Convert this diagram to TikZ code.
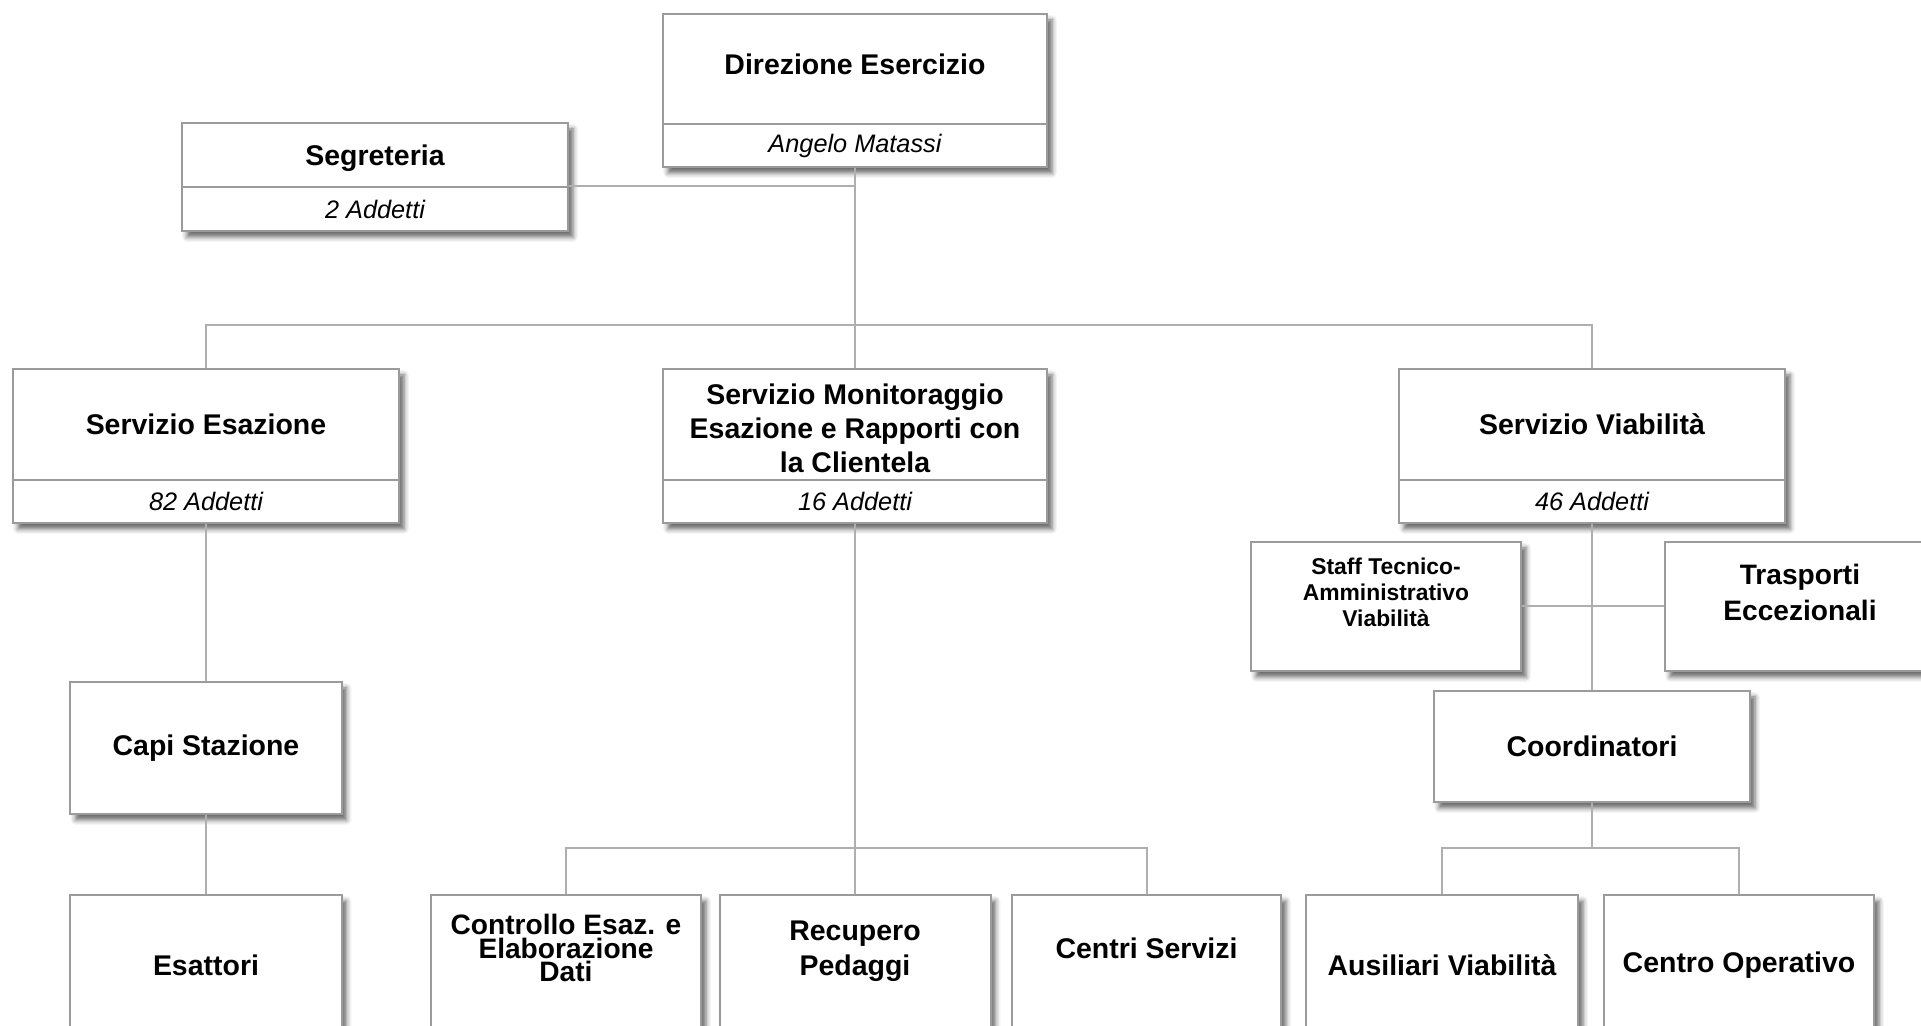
\documentclass[tikz,border=0pt]{standalone}
\usepackage{fontspec}
\setmainfont{Liberation Sans}
\usetikzlibrary{positioning,shadows,shadows.blur}
\definecolor{boxgray}{RGB}{155,155,155}
\definecolor{linegray}{RGB}{175,175,175}
\tikzset{
  plainbox/.style={draw=boxgray, line width=0.02cm, fill=white, align=center, inner sep=1pt},
  orgbox/.style={plainbox,
    blur shadow={shadow xshift=0.05cm, shadow yshift=-0.06cm, shadow blur radius=0.05cm, shadow opacity=60}},
  headbox/.style={orgbox, font=\fontsize{8.1}{9.7}\selectfont\bfseries},
  subbox/.style={plainbox, anchor=south, font=\fontsize{7.2}{8.6}\selectfont\itshape},
  unitbox/.style={headbox, anchor=north, minimum height=1.40cm},
  link/.style={draw=linegray, line width=0.02cm},
}

\begin{document}
\begin{tikzpicture}
\useasboundingbox (0,0) rectangle (19.21,-10.26);

% Direzione and Segreteria
\node[headbox, minimum width=3.84cm, minimum height=1.53cm, text depth=0.53cm] (dir) at (8.55,-0.905) {Direzione Esercizio};
\node[subbox, minimum width=3.84cm, minimum height=0.43cm] (dir-sub) at (dir.south) {Angelo Matassi};
\node[headbox, minimum width=3.86cm, minimum height=1.08cm, text depth=0.44cm] (seg) at (3.75,-1.77) {Segreteria};
\node[subbox, minimum width=3.86cm, minimum height=0.44cm] (seg-sub) at (seg.south) {2 Addetti};

% Servizi
\node[headbox, minimum width=3.86cm, minimum height=1.54cm, text depth=0.43cm] (esa) at (2.06,-4.46) {Servizio Esazione};
\node[subbox, minimum width=3.86cm, minimum height=0.43cm] (esa-sub) at (esa.south) {82 Addetti};
\node[headbox, minimum width=3.84cm, minimum height=1.54cm, text depth=0.36cm] (mon) at (8.55,-4.46) {Servizio Monitoraggio\\Esazione e Rapporti con\\la Clientela};
\node[subbox, minimum width=3.84cm, minimum height=0.43cm] (mon-sub) at (mon.south) {16 Addetti};
\node[headbox, minimum width=3.86cm, minimum height=1.54cm, text depth=0.43cm] (via) at (15.92,-4.46) {Servizio Viabilità};
\node[subbox, minimum width=3.86cm, minimum height=0.43cm] (via-sub) at (via.south) {46 Addetti};

% Viabilita staff
\node[orgbox, font=\fontsize{6.5}{7.4}\selectfont\bfseries, minimum width=2.70cm, minimum height=1.29cm, text depth=0.29cm] (staff) at (13.86,-6.065) {Staff Tecnico-\\Amministrativo\\Viabilità};
\node[orgbox, font=\fontsize{8}{10.2}\selectfont\bfseries, minimum width=2.70cm, minimum height=1.29cm, text depth=0.29cm] (trasp) at (18.0,-6.065) {Trasporti\\Eccezionali};
\node[headbox, minimum width=3.16cm, minimum height=1.11cm] (coord) at (15.92,-7.465) {Coordinatori};

% Esazione
\node[headbox, minimum width=2.71cm, minimum height=1.32cm] (capi) at (2.06,-7.48) {Capi Stazione};
\node[unitbox, minimum width=2.71cm] (esat) at (2.06,-8.94) {Esattori};

% Unita operative
\node[unitbox, minimum width=2.70cm, font=\fontsize{8}{6.7}\selectfont\bfseries, text depth=0.34cm] (ctrl) at (5.66,-8.94) {Controllo Esaz. e\\Elaborazione\\Dati};
\node[unitbox, minimum width=2.71cm, font=\fontsize{8.1}{9.8}\selectfont\bfseries, text depth=0.34cm] (rec) at (8.55,-8.94) {Recupero\\Pedaggi};
\node[unitbox, minimum width=2.69cm, text depth=0.34cm] (cser) at (11.465,-8.94) {Centri Servizi};
\node[unitbox, minimum width=2.72cm] (aus) at (14.42,-8.94) {Ausiliari Viabilità};
\node[unitbox, minimum width=2.70cm] (cop) at (17.39,-8.94) {Centro Operativo};

% Connectors
\coordinate (bus1) at (8.55,-3.25);
\coordinate (bus2) at (8.55,-8.48);
\coordinate (bus3) at (15.92,-8.48);
\draw[link] (seg-sub.north east) -| (dir-sub.south);
\draw[link] (dir-sub.south) -- (mon.north);
\draw[link] (esa.north) |- (bus1) -| (via.north);
\draw[link] (esa-sub.south) -- (capi.north);
\draw[link] (capi.south) -- (esat.north);
\draw[link] (mon-sub.south) -- (bus2);
\draw[link] (ctrl.north) |- (bus2) -| (cser.north);
\draw[link] (bus2) -- (rec.north);
\draw[link] (via-sub.south) -- (coord.north);
\draw[link] (staff.east) -- (trasp.west);
\draw[link] (coord.south) -- (bus3);
\draw[link] (aus.north) |- (bus3) -| (cop.north);

\end{tikzpicture}
\end{document}
